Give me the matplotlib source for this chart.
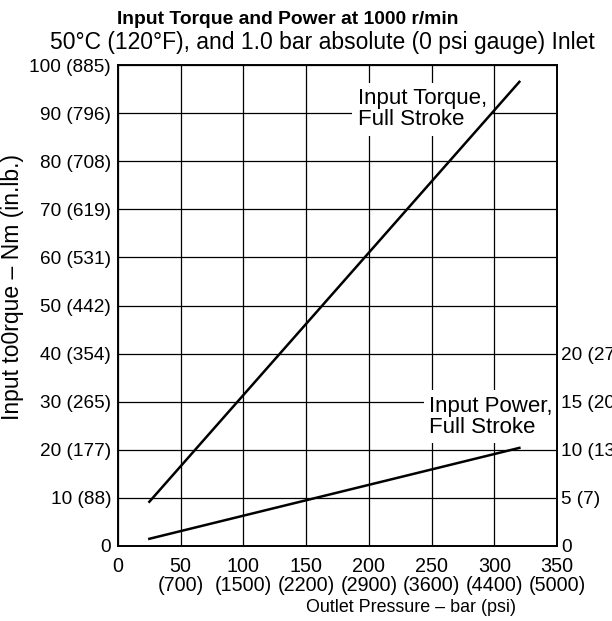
import numpy as np
import matplotlib
matplotlib.use("Agg")
import matplotlib.pyplot as plt

plt.rcParams['font.family'] = ['Liberation Sans', 'DejaVu Sans']

# ---------------------------------
# Data
# ---------------------------------
pressure_bar = [25, 320]
torque_nm = [9.2, 96.5]
power_kw = [0.75, 10.2]

x_ticks = [0, 50, 100, 150, 200, 250, 300, 350]
x_psi = ['', '700', '1500', '2200', '2900', '3600', '4400', '5000']

y_ticks = [0, 10, 20, 30, 40, 50, 60, 70, 80, 90, 100]
y_inlb = ['', '88', '177', '265', '354', '442', '531', '619', '708', '796', '885']

p_ticks = [0, 5, 10, 15, 20]
p_hp = ['', '7', '13', '20', '27']

FS = 13.7

# ---------------------------------
# Figure / axes
# ---------------------------------
fig = plt.figure(figsize=(6.12, 6.21), dpi=100)
ax = fig.add_axes([118 / 612, 1 - 546 / 621, 439 / 612, 481 / 621])
ax.set_xlim(0, 350)
ax.set_ylim(0, 100)
ax.set_axisbelow(True)
ax.grid(True, color='black', lw=0.9)

xl = [f"{t}\n({p})" if p else str(t) for t, p in zip(x_ticks, x_psi)]
yl = [f"{t} ({p})" if p else str(t) for t, p in zip(y_ticks, y_inlb)]
ax.set_xticks(x_ticks)
ax.set_xticklabels(xl, fontsize=14.2, linespacing=1.0)
ax.set_yticks(y_ticks)
ax.set_yticklabels(yl, fontsize=FS)
ax.tick_params(length=0)
ax.tick_params(axis='x', pad=8)
ax.tick_params(axis='y', pad=5)
for s in ax.spines.values():
    s.set_linewidth(1.2)

ax2 = ax.twinx()
ax2.set_ylim(0, 50)
ax2.set_yticks(p_ticks)
ax2.set_yticklabels([f"{t} ({h})" if h else str(t) for t, h in zip(p_ticks, p_hp)],
                    fontsize=FS)
ax2.tick_params(length=0, pad=3)
for s in ax2.spines.values():
    s.set_linewidth(1.2)

# ---------------------------------
# Lines
# ---------------------------------
ax.plot(pressure_bar, torque_nm, color='black', lw=1.8, zorder=4)
ax2.plot(pressure_bar, power_kw, color='black', lw=1.8, zorder=4)

box = dict(facecolor='white', edgecolor='none', pad=4)
ax.text(191, 95.2, "Input Torque,\nFull Stroke", fontsize=16, ha='left', va='top',
        linespacing=1.0, bbox=box, zorder=2)
ax.text(248, 31.2, "Input Power,\nFull Stroke", fontsize=16, ha='left', va='top',
        linespacing=1.0, bbox=box, zorder=2)

# ---------------------------------
# Titles / axis labels
# ---------------------------------
fig.text(117 / 612, 1 - 19 / 621, "Input Torque and Power at 1000 r/min",
         fontsize=13.9, fontweight='bold', ha='left', va='center')
fig.text(50 / 612, 1 - 43 / 621, "50°C (120°F), and 1.0 bar absolute (0 psi gauge) Inlet",
         fontsize=16.5, ha='left', va='center')
fig.text(411 / 612, 1 - 608 / 621, "Outlet Pressure – bar (psi)",
         fontsize=12.9, ha='center', va='center')
fig.text(13 / 612, 1 - 287 / 621, "Input to0rque – Nm (in.lb.)",
         fontsize=16.5, rotation=90, ha='center', va='center')

fig.savefig("out.png", dpi=100)
